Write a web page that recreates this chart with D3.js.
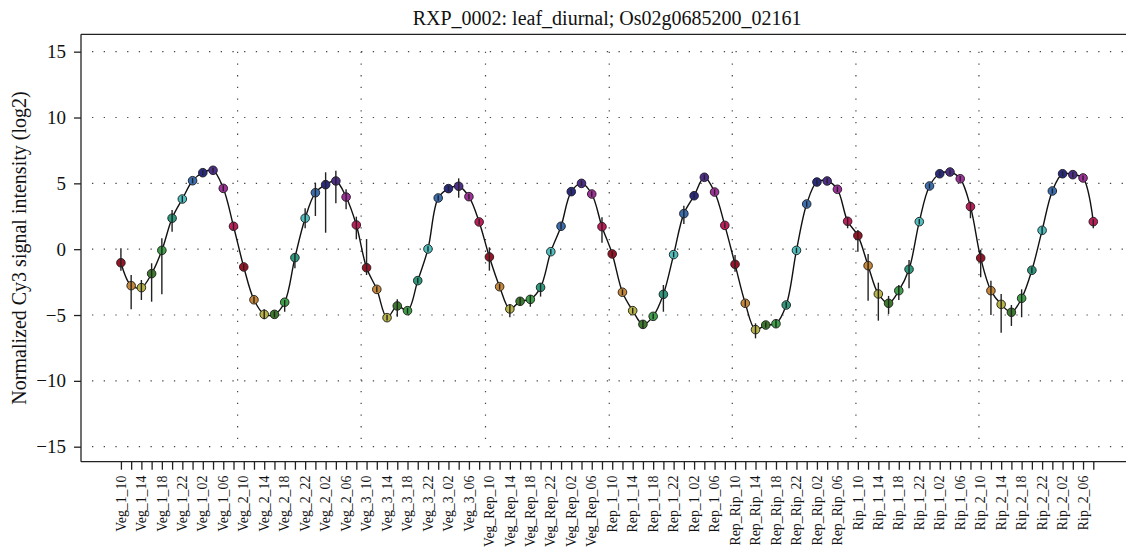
<!DOCTYPE html>
<html>
<head>
<meta charset="utf-8">
<script src="https://cdn.jsdelivr.net/npm/d3@7"></script>
<style>
  html, body { margin: 0; padding: 0; background: #fff; }
  svg { display: block; }
  svg text { font-family: "Liberation Serif", "Times New Roman", serif !important; fill: #111; }
</style>
</head>
<body>
<svg id="chart" width="1126" height="555"></svg>
<script>
// ---------------- data ----------------
const title = "RXP_0002: leaf_diurnal; Os02g0685200_02161";
const yLabel = "Normalized Cy3 signal intensity (log2)";
const days = ["Veg_1", "Veg_2", "Veg_3", "Veg_Rep", "Rep_1", "Rep_Rip", "Rip_1", "Rip_2"];
const hours = ["10", "12", "14", "16", "18", "20", "22", "00", "02", "04", "06", "08"];
const hourColors = ["#9A1428", "#C8883A", "#B8B448", "#3D7A2E", "#3FA04A", "#2E9A7E",
                    "#4FBFBF", "#3A6EB0", "#2A2A80", "#4E2E8A", "#A0309A", "#C01E5A"];
const yTicks = [-15, -10, -5, 0, 5, 10, 15];
// vertical dotted grid lines (positions on the sample index axis)
const vGrid = [11.40, 23.47, 35.62, 47.71, 59.73, 71.81, 83.83];

const values = [
  -1.03, -2.77, -2.92, -1.86, -0.09, 2.35, 3.81, 5.20, 5.81, 5.99, 4.62, 1.74,
  -1.35, -3.84, -4.95, -4.95, -4.03, -0.64, 2.35, 4.29, 4.90, 5.18, 3.96, 1.84,
  -1.41, -3.05, -5.20, -4.31, -4.67, -2.39, 0.02, 3.89, 4.60, 4.78, 3.99, 2.07,
  -0.59, -2.85, -4.54, -3.96, -3.81, -2.90, -0.19, 1.74, 4.37, 5.00, 4.19, 1.71,
  -0.36, -3.27, -4.67, -5.71, -5.10, -3.43, -0.41, 2.70, 4.06, 5.46, 4.34, 1.81,
  -1.15, -4.11, -6.11, -5.76, -5.66, -4.24, -0.09, 3.43, 5.10, 5.18, 4.55, 2.12,
   1.03, -1.25, -3.40, -4.11, -3.15, -1.53, 2.09, 4.80, 5.73, 5.86, 5.35, 3.23,
  -0.67, -3.15, -4.19, -4.79, -3.73, -1.60, 1.43, 4.42, 5.73, 5.66, 5.41, 2.09
];
const upper = [
   0.07, -1.96, -2.34, -1.07, 0.83, 2.98, 4.05, 5.40, 6.00, 6.18, 4.85, 2.02,
  -1.12, -3.60, -4.56, -4.72, -3.86, -0.31, 3.10, 5.05, 5.84, 5.96, 4.55, 2.47,
   0.77, -2.82, -4.98, -3.80, -4.45, -2.17, 0.22, 4.10, 4.82, 5.38, 4.20, 2.30,
   0.14, -2.62, -4.16, -3.66, -3.48, -2.59, 0.02, 2.00, 4.58, 5.20, 4.40, 2.42,
  -0.15, -3.05, -4.45, -5.40, -4.88, -2.72, -0.20, 3.30, 4.28, 5.66, 4.55, 2.02,
  -0.44, -3.85, -5.63, -5.55, -5.38, -4.02, 0.12, 3.64, 5.30, 5.38, 4.76, 2.42,
   1.46, -0.36, -2.54, -3.55, -2.72, -0.82, 2.30, 5.00, 5.93, 6.06, 5.55, 3.61,
  -0.05, -2.39, -3.40, -4.24, -3.05, -1.38, 1.70, 4.62, 5.92, 5.86, 5.60, 2.27
];
const lower = [
  -1.63, -4.57, -3.86, -3.99, -3.43, 1.33, 3.55, 5.00, 5.62, 5.80, 4.40, 1.45,
  -1.60, -4.08, -5.32, -5.18, -4.75, -1.45, 1.59, 2.52, 1.25, 3.49, 3.03, 0.75,
  -1.96, -3.28, -5.42, -5.13, -4.90, -2.60, -0.20, 3.68, 4.38, 3.91, 3.78, 1.85,
  -1.63, -3.08, -5.17, -4.26, -4.37, -3.60, -0.40, 1.50, 4.16, 4.80, 3.98, 0.49,
  -0.57, -3.50, -4.90, -6.02, -5.32, -4.75, -0.62, 1.91, 3.84, 5.26, 4.13, 1.60,
  -1.71, -4.37, -6.77, -5.97, -5.94, -4.46, -0.30, 3.22, 4.90, 4.98, 4.34, 1.59,
  -0.19, -3.91, -5.43, -4.92, -3.86, -2.97, 1.88, 4.60, 5.53, 5.66, 5.15, 2.35,
  -2.13, -5.00, -6.34, -5.83, -5.17, -1.82, 1.15, 4.22, 5.54, 5.46, 5.22, 1.59
];

// ---------------- build ----------------
const categories = [];
days.forEach(d => hours.forEach(h => categories.push(d + "_" + h)));
const data = values.map((v, i) => ({
  i, v, hi: upper[i], lo: lower[i], cat: categories[i], color: hourColors[i % 12]
}));

const svg = d3.select("#chart");
const plotLeft = 81, plotTop = 34.3, plotBottom = 461.7, plotRight = 1133.2;

const x = d3.scaleLinear().domain([-3.9, 98.9]).range([plotLeft, plotRight]);
const y = d3.scaleLinear().domain([-16.14, 16.32]).range([plotBottom, plotTop]);

// grid
const grid = svg.append("g").attr("stroke", "#444").attr("stroke-width", 1.2)
  .attr("stroke-dasharray", "1.3,10.4").attr("fill", "none");
grid.selectAll("line.h").data(yTicks).join("line").attr("class", "h")
  .attr("x1", 92).attr("x2", 1130).attr("y1", d => y(d)).attr("y2", d => y(d));
grid.selectAll("line.v").data(vGrid).join("line").attr("class", "v")
  .attr("x1", d => x(d)).attr("x2", d => x(d)).attr("y1", y(15)).attr("y2", y(-15));

// frame (top)
svg.append("line").attr("x1", plotLeft).attr("x2", 1130).attr("y1", plotTop).attr("y2", plotTop)
  .attr("stroke", "#222").attr("stroke-width", 1.3);

// y axis
const yAxis = svg.append("g").attr("transform", `translate(${plotLeft},0)`)
  .call(d3.axisLeft(y).tickValues(yTicks).tickSize(7).tickPadding(8).tickSizeOuter(0));
yAxis.attr("font-family", null).attr("font-size", null);
yAxis.select(".domain").attr("d", `M0,${plotTop}V${plotBottom}`).attr("stroke", "#222").attr("stroke-width", 1.3);
yAxis.selectAll(".tick line").attr("stroke", "#222").attr("stroke-width", 1.3);
yAxis.selectAll(".tick text").style("font-size", "19px").attr("fill", "#111");

// x axis
const xAxis = svg.append("g").attr("transform", `translate(0,${plotBottom})`)
  .call(d3.axisBottom(x).tickValues(d3.range(categories.length)).tickSize(8).tickSizeOuter(0)
    .tickFormat(i => (i % 2 === 0 ? categories[i] : "")));
xAxis.attr("font-family", null).attr("font-size", null);
xAxis.select(".domain").attr("d", `M${plotLeft},0H1130`).attr("stroke", "#222").attr("stroke-width", 1.3);
xAxis.selectAll(".tick line").attr("stroke", "#222").attr("stroke-width", 1.3);
xAxis.selectAll(".tick text")
  .style("font-size", "13.8px").attr("fill", "#111")
  .attr("transform", "rotate(-90)").attr("text-anchor", "end")
  .attr("x", -14).attr("y", 0).attr("dy", "0.3em");

// line
const line = d3.line().x(d => x(d.i)).y(d => y(d.v)).curve(d3.curveCatmullRom.alpha(0.5));
svg.append("path").datum(data).attr("d", line)
  .attr("fill", "none").attr("stroke", "#111").attr("stroke-width", 1.4);

// points
svg.append("g").selectAll("circle").data(data).join("circle")
  .attr("cx", d => x(d.i)).attr("cy", d => y(d.v)).attr("r", 4.3)
  .attr("fill", d => d.color).attr("stroke", "#1a1a1a").attr("stroke-width", 0.9);

// error bars
svg.append("g").selectAll("line").data(data).join("line")
  .attr("x1", d => x(d.i)).attr("x2", d => x(d.i))
  .attr("y1", d => y(d.hi)).attr("y2", d => y(d.lo))
  .attr("stroke", "#222").attr("stroke-width", 1.4);

// title
svg.append("text").attr("x", (plotLeft + plotRight) / 2).attr("y", 24.5)
  .attr("text-anchor", "middle").style("font-size", "20px").text(title);

// y label
svg.append("text").attr("transform", `translate(26,${(plotTop + plotBottom) / 2}) rotate(-90)`)
  .attr("text-anchor", "middle").style("font-size", "20px").text(yLabel);
</script>
</body>
</html>
